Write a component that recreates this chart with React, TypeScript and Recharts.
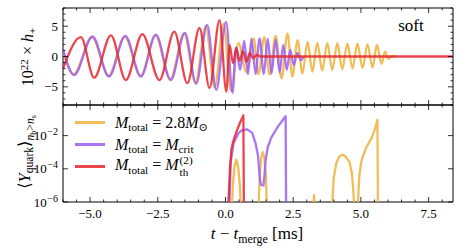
import React from 'react';
import { LineChart, Line, XAxis, YAxis, ReferenceArea } from 'recharts';

// ---------- layout constants ----------
const FONT = '"Liberation Serif", "Times New Roman", Times, "DejaVu Serif", serif';
const PLOT_LEFT = 63;
const PLOT_RIGHT = 453;
const TOP_H = 110;
const TOP_PT = 8;
const TOP_PB = 105;
const BOT_OFFSET = 100;
const BOT_H = 150;
const BOT_PT = 5;
const BOT_PB = 102;

const C_ORANGE = '#efb13b';
const C_PURPLE = '#9c5df5';
const C_RED = '#e8262e';
const LW = 2.3;

// ---------- ticks ----------
const xTicks = [-6, -5.5, -5, -4.5, -4, -3.5, -3, -2.5, -2, -1.5, -1, -0.5, 0, 0.5, 1, 1.5, 2, 2.5, 3, 3.5, 4, 4.5, 5, 5.5, 6, 6.5, 7, 7.5, 8];
const xMajorTicks = [-5, -2.5, 0, 2.5, 5, 7.5];
const xTickLabels = ['\u22125.0', '\u22122.5', '0.0', '2.5', '5.0', '7.5'];
const hTicks = [-8, -7, -6, -5, -4, -3, -2, -1, 0, 1, 2, 3, 4, 5, 6, 7, 8];
const hMajorTicks = [-5, 0, 5];
const hTickLabels = ['\u22125', '0', '5'];
const yqTicks = [1e-6, 1e-4, 1e-2];
const yqTickExponents = ['\u22126', '\u22124', '\u22122'];

// ---------- top panel: strain extrema (t [ms], 10^22 h+) ----------
const strain28T = [-6.0, -5.61, -4.93, -4.32, -3.72, -3.14, -2.59, -2.04, -1.53, -1.11, -0.73, -0.40, -0.07, 0.20, 0.48, 0.77, 1.04, 1.22, 1.43, 1.63, 1.85, 2.07, 2.29, 2.47, 2.66, 2.84, 3.03, 3.21, 3.39, 3.57, 3.76, 3.94, 4.13, 4.31, 4.50, 4.69, 4.87, 5.06, 5.24, 5.43, 5.59, 5.76, 5.89, 6.02, 6.15, 6.3];
const strain28H = [1.0, -2.95, 3.15, -3.15, 3.25, -3.2, 3.45, -3.75, 3.75, -4.3, 5.0, -5.1, 5.4, -5.6, 2.2, -2.6, 3.0, -2.9, 3.2, -3.0, 3.4, -3.6, 3.8, -3.3, 2.7, -2.8, 2.4, -2.5, 2.3, -2.3, 2.2, -2.2, 2.2, -2.1, 2.1, -2.0, 2.1, -1.9, 2.0, -1.8, 1.9, -1.2, 0.8, -0.4, 0.1, 0];

const strainCritT = [-6.0, -5.59, -4.91, -4.30, -3.70, -3.12, -2.57, -2.02, -1.50, -1.08, -0.68, -0.34, 0.02, 0.26, 0.39, 0.54, 0.69, 0.83, 0.96, 1.11, 1.26, 1.41, 1.56, 1.70, 1.85, 2.00, 2.13, 2.26, 2.39, 2.52, 2.65, 2.78, 2.89];
const strainCritH = [1.2, -3.05, 3.3, -3.3, 3.4, -3.3, 3.6, -3.9, 3.9, -4.5, 5.2, -5.5, 5.7, -6.0, 1.5, -2.2, 2.6, -2.9, 2.9, -2.9, 3.0, -2.9, 2.9, -2.8, 2.8, -2.6, 1.9, -2.2, 1.1, -1.4, 0.6, -0.6, 0];

const strainThT = [-6.0, -5.34, -4.85, -4.23, -3.68, -3.07, -2.44, -1.89, -1.41, -0.96, -0.59, -0.22, 0.03, 0.15, 0.28, 0.40, 0.52, 0.65, 0.77, 0.90, 1.02, 1.15, 1.3, 8.4];
const strainThH = [-2.0, 3.2, -3.5, 3.5, -3.9, 3.7, -3.9, 4.1, -4.4, 4.7, -5.2, 6.0, -5.8, 1.9, -1.1, 1.4, -0.7, 0.9, -0.9, 0.6, -0.3, 0.25, 0, 0];

// ---------- bottom panel: quark fraction (t [ms], log10 <Y_quark>) ----------
const yq28T = [0.22, 0.27, 0.33, 0.40, 0.47, 0.53, 0.58, 1.20, 1.27, 1.32, 1.38, 1.43, 1.49, 1.54, 3.21, 3.27, 3.33, 3.92, 3.99, 4.10, 4.21, 4.32, 4.43, 4.58, 4.67, 4.72, 4.77, 4.87, 4.93, 5.00, 5.05, 5.20, 5.39, 5.50, 5.61, 5.63];
const yq28Log10 = [-7, -5.0, -3.9, -3.45, -3.9, -5.0, -7, -7, -4.3, -3.3, -3.0, -3.3, -4.3, -7, -7, -5.58, -7, -7, -4.6, -3.6, -3.25, -3.15, -3.25, -3.6, -4.3, -5.3, -7, -7, -4.6, -3.7, -3.35, -2.7, -2.15, -1.7, -1.05, -7];

const yqCritT = [0.13, 0.19, 0.30, 0.48, 0.60, 0.79, 0.98, 1.10, 1.20, 1.27, 1.31, 1.40, 1.44, 1.48, 1.56, 1.69, 1.94, 2.22, 2.24];
const yqCritLog10 = [-7, -3.6, -2.45, -1.85, -1.68, -1.62, -1.82, -2.4, -3.2, -4.6, -4.97, -5.0, -4.4, -3.5, -2.7, -2.12, -1.44, -0.83, -7];

const yqThT = [0.08, 0.17, 0.22, 0.30, 0.43, 0.55, 0.66, 0.68];
const yqThLog10 = [-7, -3.9, -2.8, -2.26, -1.66, -1.16, -0.78, -7];

const zip = (ts: number[], vs: number[]) => ts.map((t, i) => ({ t, v: vs[i] }));
const zipLog = (ts: number[], ls: number[]) => ts.map((t, i) => ({ t, v: Math.pow(10, ls[i]) }));

const strainSeries = [
  { key: 'o', color: C_ORANGE, data: zip(strain28T, strain28H) },
  { key: 'p', color: C_PURPLE, data: zip(strainCritT, strainCritH) },
  { key: 'r', color: C_RED, data: zip(strainThT, strainThH) },
];
const yqSeries = [
  { key: 'o', color: C_ORANGE, data: zipLog(yq28T, yq28Log10) },
  { key: 'p', color: C_PURPLE, data: zipLog(yqCritT, yqCritLog10) },
  { key: 'r', color: C_RED, data: zipLog(yqThT, yqThLog10) },
];

// ---------- text helpers ----------
const Sub = ({ children }: any) => (
  <span style={{ fontSize: '0.7em', position: 'relative', top: '0.3em' }}>{children}</span>
);
const Sup = ({ children }: any) => (
  <span style={{ fontSize: '0.7em', position: 'relative', top: '-0.45em' }}>{children}</span>
);

const MAJ = 5;
const MIN = 2.5;
const TW = 0.8;
const TICK_FS = 13;

// ---------- tick renderers ----------
const TopXTick = (props: any) => {
  const { x, payload } = props;
  const L = xMajorTicks.includes(payload.value) ? MAJ : MIN;
  return (
    <g>
      <line x1={x} x2={x} y1={TOP_PT} y2={TOP_PT + L} stroke="#000" strokeWidth={TW} />
      <line x1={x} x2={x} y1={TOP_PB} y2={TOP_PB - L} stroke="#000" strokeWidth={TW} />
    </g>
  );
};
const TopYTick = (props: any) => {
  const { y, payload } = props;
  const idx = hMajorTicks.indexOf(payload.value);
  const L = idx >= 0 ? MAJ : MIN;
  return (
    <g>
      <line x1={PLOT_LEFT} x2={PLOT_LEFT + L} y1={y} y2={y} stroke="#000" strokeWidth={TW} />
      <line x1={PLOT_RIGHT} x2={PLOT_RIGHT - L} y1={y} y2={y} stroke="#000" strokeWidth={TW} />
      {idx >= 0 && (
        <text x={58} y={y + 4.4} textAnchor="end" fontSize={TICK_FS} style={{ fontFamily: FONT }} fill="#000">
          {hTickLabels[idx]}
        </text>
      )}
    </g>
  );
};
const BotXTick = (props: any) => {
  const { x, payload } = props;
  const idx = xMajorTicks.indexOf(payload.value);
  const L = idx >= 0 ? MAJ : MIN;
  return (
    <g>
      <line x1={x} x2={x} y1={BOT_PT} y2={BOT_PT + L} stroke="#000" strokeWidth={TW} />
      <line x1={x} x2={x} y1={BOT_PB} y2={BOT_PB - L} stroke="#000" strokeWidth={TW} />
      {idx >= 0 && (
        <text x={x} y={BOT_PB + 15.5} textAnchor="middle" fontSize={TICK_FS} style={{ fontFamily: FONT }} fill="#000">
          {xTickLabels[idx]}
        </text>
      )}
    </g>
  );
};
const BotYTick = (props: any) => {
  const { y, payload } = props;
  const idx = yqTicks.findIndex((v) => Math.abs(Math.log10(v) - Math.log10(payload.value)) < 1e-6);
  return (
    <g>
      <line x1={PLOT_LEFT} x2={PLOT_LEFT + MAJ} y1={y} y2={y} stroke="#000" strokeWidth={TW} />
      <line x1={PLOT_RIGHT} x2={PLOT_RIGHT - MAJ} y1={y} y2={y} stroke="#000" strokeWidth={TW} />
      {idx >= 0 && (
        <text x={58} y={y + 4.6} textAnchor="end" fontSize={TICK_FS} style={{ fontFamily: FONT }} fill="#000">
          10
          <tspan dx={0.5} dy={-5} fontSize={10}>{yqTickExponents[idx]}</tspan>
        </text>
      )}
    </g>
  );
};

const legendItems = [
  {
    color: C_ORANGE,
    label: (
      <>
        <i>M</i><Sub>total</Sub> = 2.8<i>M</i><Sub>{'\u2299'}</Sub>
      </>
    ),
  },
  {
    color: C_PURPLE,
    label: (
      <>
        <i>M</i><Sub>total</Sub> = <i>M</i><Sub>crit</Sub>
      </>
    ),
  },
  {
    color: C_RED,
    label: (
      <>
        <i>M</i><Sub>total</Sub> = <i>M</i>
        <span style={{ display: 'inline-flex', flexDirection: 'column', fontSize: '0.7em', lineHeight: 1, verticalAlign: 'middle', marginLeft: 1 }}>
          <span>(2)</span>
          <span>th</span>
        </span>
      </>
    ),
  },
];

export default function App() {
  return (
    <div style={{ position: 'absolute', left: 0, top: 0, width: 462, height: 250, background: '#fff', fontFamily: FONT, color: '#000' }}>
      <div style={{ position: 'absolute', left: 0, top: 0 }}>
        <LineChart width={462} height={TOP_H} margin={{ top: TOP_PT, right: 462 - PLOT_RIGHT, bottom: TOP_H - TOP_PB - 1, left: 0 }}>
          <XAxis
            type="number"
            dataKey="t"
            domain={[-6, 8.4]}
            ticks={xTicks}
            interval={0}
            allowDataOverflow
            height={1}
            axisLine={false}
            tickLine={false}
            tick={(p: any) => <TopXTick {...p} />}
          />
          <YAxis
            type="number"
            domain={[-8, 8]}
            ticks={hTicks}
            interval={0}
            allowDataOverflow
            width={PLOT_LEFT}
            axisLine={false}
            tickLine={false}
            tick={(p: any) => <TopYTick {...p} />}
          />
          {strainSeries.map((s) => (
            <Line
              key={s.key}
              data={s.data}
              dataKey="v"
              type="monotone"
              stroke={s.color}
              strokeWidth={LW}
              strokeOpacity={0.85}
              strokeLinejoin="round"
              dot={false}
              activeDot={false}
              isAnimationActive={false}
            />
          ))}
          <ReferenceArea x1={-6} x2={8.4} y1={-8} y2={8} fill="none" stroke="#000" strokeWidth={1} ifOverflow="visible" />
        </LineChart>
      </div>
      <div style={{ position: 'absolute', left: 0, top: BOT_OFFSET }}>
        <LineChart width={462} height={BOT_H} margin={{ top: BOT_PT, right: 462 - PLOT_RIGHT, bottom: 0, left: 0 }}>
          <XAxis
            type="number"
            dataKey="t"
            domain={[-6, 8.4]}
            ticks={xTicks}
            interval={0}
            allowDataOverflow
            height={BOT_H - BOT_PB}
            axisLine={false}
            tickLine={false}
            tick={(p: any) => <BotXTick {...p} />}
          />
          <YAxis
            type="number"
            scale="log"
            domain={[1e-6, 0.7]}
            ticks={yqTicks}
            interval={0}
            allowDataOverflow
            width={PLOT_LEFT}
            axisLine={false}
            tickLine={false}
            tick={(p: any) => <BotYTick {...p} />}
          />
          {yqSeries.map((s) => (
            <Line
              key={s.key}
              data={s.data}
              dataKey="v"
              type="linear"
              stroke={s.color}
              strokeWidth={LW}
              strokeOpacity={0.85}
              strokeLinejoin="round"
              dot={false}
              activeDot={false}
              isAnimationActive={false}
            />
          ))}
          <ReferenceArea x1={-6} x2={8.4} y1={1e-6} y2={0.7} fill="none" stroke="#000" strokeWidth={1} ifOverflow="visible" />
        </LineChart>
      </div>

      {/* legend */}
      <div style={{ position: 'absolute', left: 75, top: 111.5 }}>
        {legendItems.map((it, i) => (
          <div key={i} style={{ display: 'flex', alignItems: 'center', height: 22, whiteSpace: 'nowrap' }}>
            <div style={{ width: 30, height: LW, background: it.color, opacity: 0.85, marginRight: 10 }} />
            <div style={{ fontSize: 16, lineHeight: 1 }}>{it.label}</div>
          </div>
        ))}
      </div>

      {/* soft */}
      <div style={{ position: 'absolute', left: 411, top: 25, transform: 'translate(-50%,-50%)', fontSize: 17, lineHeight: 1 }}>soft</div>

      {/* y labels */}
      <div style={{ position: 'absolute', left: 28, top: 57, transform: 'translate(-50%,-50%) rotate(-90deg)', whiteSpace: 'nowrap', fontSize: 16, lineHeight: 1 }}>
        10<Sup>22</Sup> {'\u00d7'} <i>h</i><Sub>+</Sub>
      </div>
      <div style={{ position: 'absolute', left: 25, top: 152, transform: 'translate(-50%,-50%) rotate(-90deg)', whiteSpace: 'nowrap', fontSize: 16.5, lineHeight: 1 }}>
        {'\u27e8'}<i>Y</i><Sub>quark</Sub>{'\u27e9'}
        <span style={{ fontSize: '0.7em', position: 'relative', top: '0.35em' }}>
          <i>n</i><span style={{ fontSize: '0.7em', position: 'relative', top: '0.3em' }}>b</span>&gt;<i>n</i><span style={{ fontSize: '0.7em', position: 'relative', top: '0.3em' }}>s</span>
        </span>
      </div>

      {/* x label */}
      <div style={{ position: 'absolute', left: 257, top: 233, transform: 'translate(-50%,-50%)', whiteSpace: 'nowrap', fontSize: 17, lineHeight: 1 }}>
        <i>t</i> {'\u2212'} <i>t</i><Sub>merge</Sub> [ms]
      </div>
    </div>
  );
}
